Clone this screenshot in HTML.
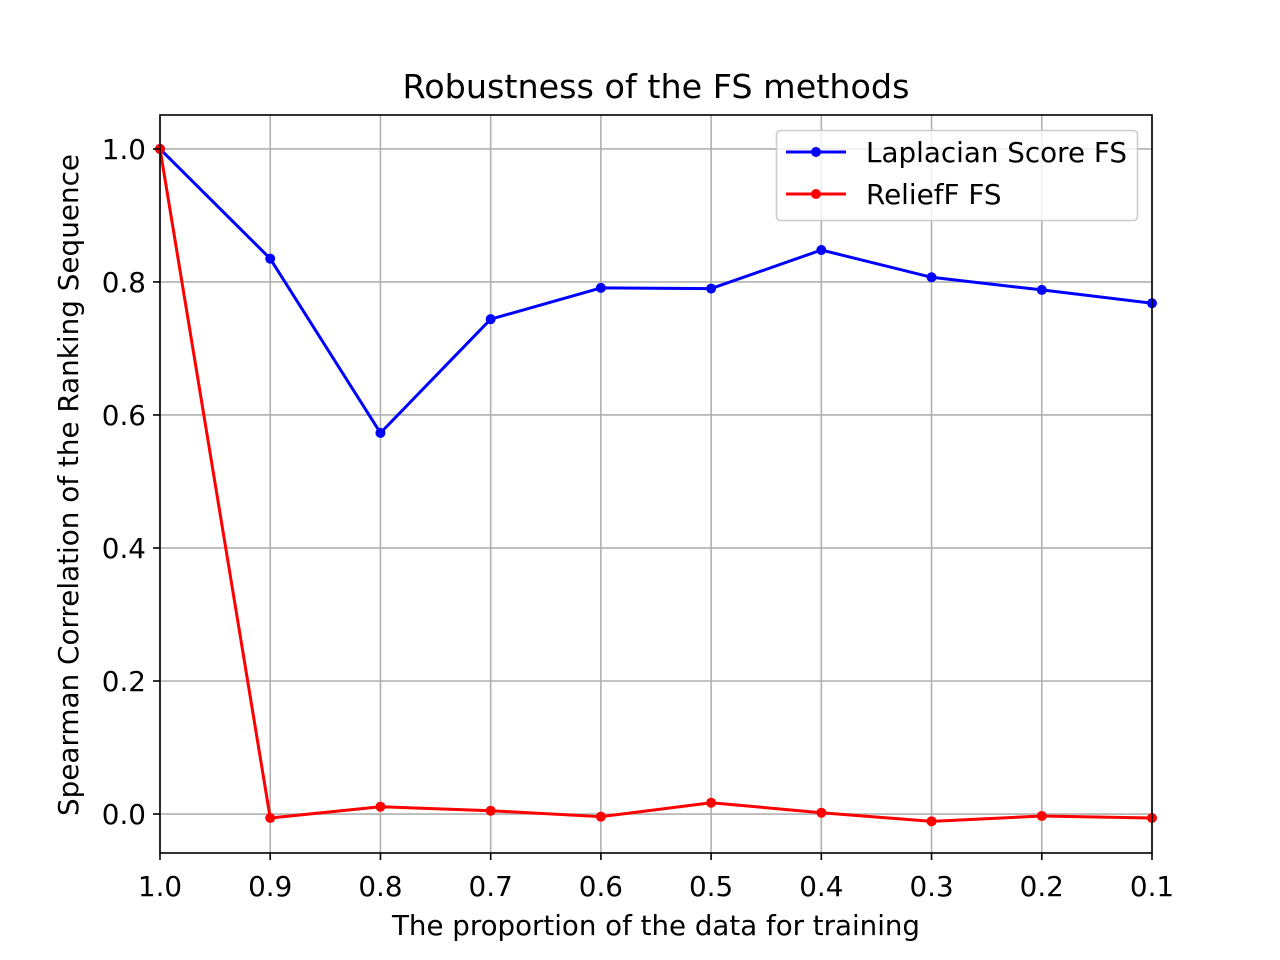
<!DOCTYPE html>
<html><head><meta charset="utf-8"><style>
body{margin:0;background:#fff}
svg{display:block;font-family:"DejaVu Sans","Liberation Sans",sans-serif}
</style></head><body>
<svg id="chart" width="1280" height="960" viewBox="0 0 1280 960">
<rect width="1280" height="960" fill="#fff"/>
<g id="grid"></g>
<g id="series"></g>
<rect x="160" y="115" width="992" height="738" fill="none" stroke="#000" stroke-width="1.6"/>
<g id="ticks"></g>
<text x="656" y="98" font-size="33.3" text-anchor="middle" textLength="507" lengthAdjust="spacingAndGlyphs">Robustness of the FS methods</text>
<text x="656" y="935" font-size="27.8" text-anchor="middle" textLength="528" lengthAdjust="spacingAndGlyphs">The proportion of the data for training</text>
<text transform="translate(78,485) rotate(-90)" font-size="27.8" text-anchor="middle" textLength="662" lengthAdjust="spacingAndGlyphs">Spearman Correlation of the Ranking Sequence</text>
<g>
<rect x="776.5" y="130.5" width="361" height="90" rx="4" fill="#fff" fill-opacity="0.8" stroke="#ccc" stroke-width="1.6"/>
<g>
<line x1="786" y1="152" x2="846" y2="152" stroke="#0000ff" stroke-width="3"/><circle cx="816" cy="152" r="5" fill="#0000ff"/>
<text x="866" y="162" font-size="27.8" textLength="261" lengthAdjust="spacingAndGlyphs">Laplacian Score FS</text></g>
<g>
<line x1="786" y1="194" x2="846" y2="194" stroke="#ff0000" stroke-width="3"/><circle cx="816" cy="194" r="5" fill="#ff0000"/>
<text x="866" y="204" font-size="27.8">ReliefF FS</text></g>
</g>
</svg>
<script>
const categories=[1.0,0.9,0.8,0.7,0.6,0.5,0.4,0.3,0.2,0.1];
const laplacianValues=[1.0,0.835,0.573,0.744,0.791,0.790,0.848,0.807,0.788,0.768];
const reliefValues=[1.0,-0.006,0.011,0.005,-0.004,0.017,0.002,-0.011,-0.003,-0.006];
const xTickLabels=["1.0","0.9","0.8","0.7","0.6","0.5","0.4","0.3","0.2","0.1"];
const yTicks=[0.0,0.2,0.4,0.6,0.8,1.0];
const yTickLabels=["0.0","0.2","0.4","0.6","0.8","1.0"];
const NS="http://www.w3.org/2000/svg";
const L=160,R=1152,T=115,B=853,xmin=1.0,xmax=0.1,ymin=-0.0586,ymax=1.051;
const xs=v=>L+(v-xmin)/(xmax-xmin)*(R-L);
const ys=v=>B-(v-ymin)/(ymax-ymin)*(B-T);
function mk(tag,attrs,parent){const e=document.createElementNS(NS,tag);for(const k in attrs)e.setAttribute(k,attrs[k]);parent.appendChild(e);return e;}
const grid=document.getElementById('grid'),ticks=document.getElementById('ticks'),series=document.getElementById('series');
categories.forEach((c,i)=>{
 const x=xs(c);
 const g=mk('line',{x1:x,x2:x,y1:T,y2:B,stroke:'#b0b0b0','stroke-width':1.6},grid);
 
 
 const t=mk('line',{x1:x,x2:x,y1:B,y2:B+7,stroke:'#000','stroke-width':1.6},ticks);
 
 
 const lb=mk('text',{x:x,y:B+43,'font-size':27.8,'text-anchor':'middle'},ticks);
 lb.textContent=xTickLabels[i];
 
 
});
yTicks.forEach((v,i)=>{
 const y=ys(v);
 const g=mk('line',{x1:L,x2:R,y1:y,y2:y,stroke:'#b0b0b0','stroke-width':1.6},grid);
 
 
 const t=mk('line',{x1:L-7,x2:L,y1:y,y2:y,stroke:'#000','stroke-width':1.6},ticks);
 
 
 const lb=mk('text',{x:L-14,y:y+10,'font-size':27.8,'text-anchor':'end'},ticks);
 lb.textContent=yTickLabels[i];
 
 
});
function draw(vals,color,name){
 const pts=vals.map((v,i)=>xs(categories[i])+','+ys(v)).join(' ');
 const pl=mk('polyline',{points:pts,fill:'none',stroke:color,'stroke-width':3,'stroke-linejoin':'round'},series);
 
 
 vals.forEach((v,i)=>{
  const c=mk('circle',{cx:xs(categories[i]),cy:ys(v),r:5,fill:color},series);
  
  
 });
}
draw(laplacianValues,'#0000ff','laplacian');
draw(reliefValues,'#ff0000','relieff');
</script>
</body></html>
